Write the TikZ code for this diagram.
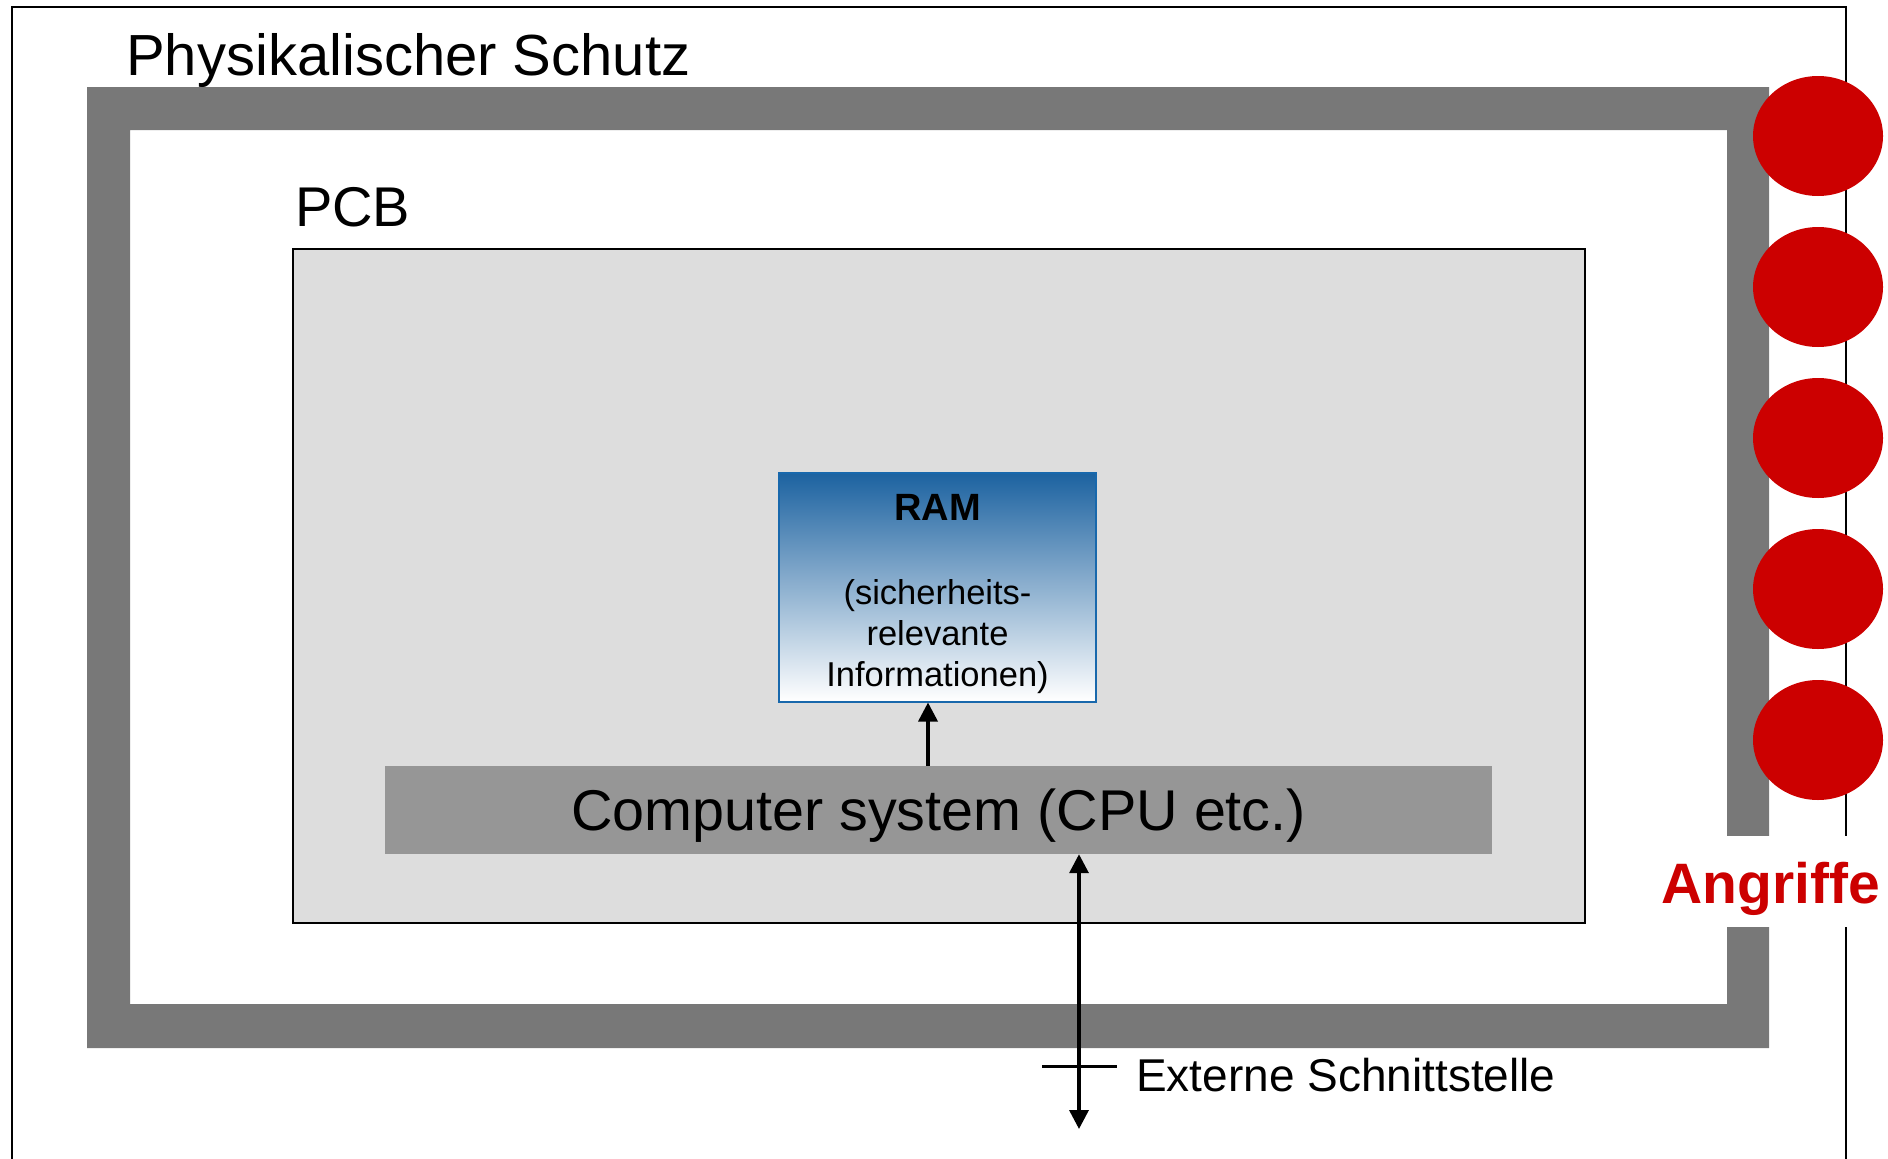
\documentclass[tikz,border=0pt]{standalone}
\usepackage{fontspec}
\setmainfont{Liberation Sans}
\usetikzlibrary{arrows.meta,shapes.geometric}

\definecolor{wallgray}{HTML}{787878}
\definecolor{pcbgray}{HTML}{DDDDDD}
\definecolor{cpugray}{HTML}{969696}
\definecolor{attackred}{HTML}{CC0000}
\definecolor{ramtop}{HTML}{1C62A0}
\definecolor{rammid}{HTML}{A0AFCB}
\definecolor{ramedge}{HTML}{1868AC}

\newcommand{\pxfont}[1]{\fontsize{#1}{#1}\selectfont}

\begin{document}
\begin{tikzpicture}[x=1pt,y=-1pt,
  frameline/.style={line width=2pt,draw=black},
  attack/.style={ellipse,fill=attackred,minimum width=130pt,minimum height=120pt,inner sep=0pt},
  pcbbox/.style={draw=black,line width=2.5pt,fill=pcbgray,minimum width=1292pt,minimum height=674pt,inner sep=0pt},
  rambox/.style={draw=ramedge,line width=2pt,shading=axis,top color=ramtop,middle color=rammid,bottom color=white,
                 minimum width=317pt,minimum height=229pt,inner sep=0pt},
  cpubox/.style={fill=cpugray,minimum width=1107pt,minimum height=88pt,inner sep=0pt,
                 font=\pxfont{57.5},text height=41pt,text depth=0pt},
  label/.style={inner sep=0pt,anchor=base west},
  ramtext/.style={inner sep=0pt,anchor=base,font=\pxfont{34.5}},
  arr/.style={line width=3.5pt,-{Triangle[length=19pt,width=19pt]}},
  darr/.style={line width=3.5pt,{Triangle[length=19pt,width=19pt]}-{Triangle[length=19pt,width=19pt]}}
]
\useasboundingbox (0,0) rectangle (1888,1159);

% outer housing outline, open at the bottom and broken beside the label
\draw[frameline] (12,1159) -- (12,7) -- (1846,7) -- (1846,836);
\draw[frameline] (1846,927) -- (1846,1159);

% physical protection wall with an opening on the right
\fill[wallgray,even odd rule] (87,87) rectangle (1769,1048) (130,130) rectangle (1727,1004);
\fill[white] (1726,836) rectangle (1770,927);

\node[label,font=\pxfont{58}] (title) at (126,75) {Physikalischer Schutz};

% attacks
\foreach \yy [count=\i] in {136,287,438,589,740}
  \node[attack] (atk\i) at (1818,\yy) {};
\node[label,font=\bfseries\pxfont{57},text=attackred] (angriffe) at (1661,903) {Angriffe};

% board
\node[label,font=\pxfont{56}] (pcblabel) at (295,226) {PCB};
\node[pcbbox] (pcb) at (939,586) {};

% memory
\node[rambox] (ram) at (937.5,587) {};
\node[ramtext,font=\bfseries\pxfont{38}] (ramname) at (937.5,520) {RAM};
\node[ramtext] (raminfoA) at (937.5,604) {(sicherheits-};
\node[ramtext] (raminfoB) at (937.5,645) {relevante};
\node[ramtext] (raminfoC) at (937.5,686) {Informationen)};

% processor
\node[cpubox] (cpu) at (938.5,810) {Computer system (CPU etc.)};

\draw[arr] ([xshift=-10.5pt]cpu.north) -- ([xshift=-9.5pt]ram.south);

% external interface
\coordinate (extend) at (1079,1129);
\coordinate (barL) at (1042,1066);
\coordinate (barR) at (1117,1066);
\draw[darr] ([xshift=140.5pt]cpu.south) -- (extend);
\draw[line width=3pt] (barL) -- (barR);
\node[label,font=\pxfont{46}] (extlabel) at (1136,1091) {Externe Schnittstelle};
\end{tikzpicture}
\end{document}
